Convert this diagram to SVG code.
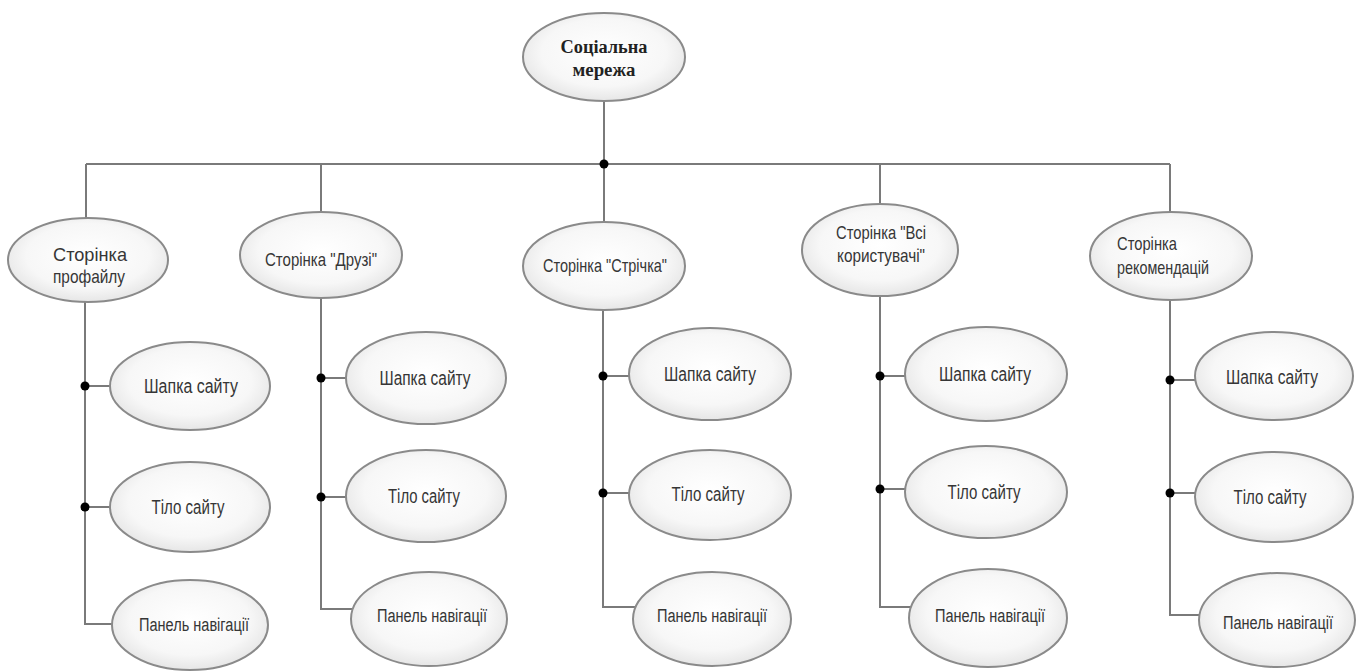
<svg xmlns="http://www.w3.org/2000/svg" width="1364" height="671" viewBox="0 0 1364 671">
  <defs>
    <radialGradient id="nodeFill" cx="50%" cy="45%" r="55%">
      <stop offset="0%" stop-color="#ffffff"/>
      <stop offset="70%" stop-color="#f7f7f7"/>
      <stop offset="100%" stop-color="#e6e6e6"/>
    </radialGradient>
  </defs>
  <style>
    .node ellipse { fill: url(#nodeFill); stroke: #8a8a8a; stroke-width: 2; }
    .lbl { font-family: "Liberation Sans", Arial, sans-serif; fill: #363636; text-anchor: middle; }
    .root { font-family: "Liberation Serif", "Times New Roman", serif; font-weight: bold; fill: #222; text-anchor: middle; font-size: 18px; }
    .conn { fill: none; stroke: #7a7a7a; stroke-width: 2; }
    .dot { fill: #000; }
  </style>

  <rect width="1364" height="671" fill="#ffffff"/>

  <!-- connectors -->
  <g id="connectors">
    <path class="conn" d="M604,101 V164"/>
    <path class="conn" d="M86,164 H1170"/>
    <path class="conn" d="M86,164 V220 M321,164 V214 M604,164 V224 M880,164 V206 M1170,164 V213"/>

    <!-- column 1 -->
    <path class="conn" d="M85,300 V624 H120 M85,386 H120 M85,507 H120"/>
    <!-- column 2 -->
    <path class="conn" d="M321,296 V609 H356 M321,378 H356 M321,497 H356"/>
    <!-- column 3 -->
    <path class="conn" d="M603,308 V607 H639 M603,376 H639 M603,493 H639"/>
    <!-- column 4 -->
    <path class="conn" d="M880,294 V607 H915 M880,376 H915 M880,489 H915"/>
    <!-- column 5 -->
    <path class="conn" d="M1170,298 V615 H1205 M1170,380 H1205 M1170,493 H1205"/>

    <circle class="dot" cx="604" cy="164" r="4.5"/>
    <circle class="dot" cx="85" cy="386" r="4.5"/>
    <circle class="dot" cx="85" cy="507" r="4.5"/>
    <circle class="dot" cx="321" cy="378" r="4.5"/>
    <circle class="dot" cx="321" cy="497" r="4.5"/>
    <circle class="dot" cx="603" cy="376" r="4.5"/>
    <circle class="dot" cx="603" cy="493" r="4.5"/>
    <circle class="dot" cx="880" cy="376" r="4.5"/>
    <circle class="dot" cx="880" cy="489" r="4.5"/>
    <circle class="dot" cx="1170" cy="380" r="4.5"/>
    <circle class="dot" cx="1170" cy="493" r="4.5"/>
  </g>

  <!-- root -->
  <g id="root" class="node">
    <ellipse cx="604" cy="57" rx="81" ry="44"/>
    <text class="root" x="604" y="53" textLength="87" lengthAdjust="spacingAndGlyphs">Соціальна</text>
    <text class="root" x="604" y="76" textLength="63" lengthAdjust="spacingAndGlyphs">мережа</text>
  </g>

  <!-- pages -->
  <g id="page-profile" class="node">
    <ellipse cx="88" cy="260" rx="80" ry="42"/>
    <text class="lbl" x="90" y="261" font-size="19" textLength="74" lengthAdjust="spacingAndGlyphs">Сторінка</text>
    <text class="lbl" x="89" y="283" font-size="19" textLength="72" lengthAdjust="spacingAndGlyphs">профайлу</text>
  </g>
  <g id="page-friends" class="node">
    <ellipse cx="321" cy="255" rx="81" ry="43"/>
    <text class="lbl" x="321" y="266" font-size="19" textLength="112" lengthAdjust="spacingAndGlyphs">Сторінка "Друзі"</text>
  </g>
  <g id="page-feed" class="node">
    <ellipse cx="604" cy="266" rx="81" ry="44"/>
    <text class="lbl" x="605" y="272" font-size="19" textLength="124" lengthAdjust="spacingAndGlyphs">Сторінка "Стрічка"</text>
  </g>
  <g id="page-users" class="node">
    <ellipse cx="880" cy="250" rx="78" ry="46"/>
    <text class="lbl" x="881" y="239" font-size="19" textLength="90" lengthAdjust="spacingAndGlyphs">Сторінка "Всі</text>
    <text class="lbl" x="881" y="262" font-size="19" textLength="88" lengthAdjust="spacingAndGlyphs">користувачі"</text>
  </g>
  <g id="page-recommendations" class="node">
    <ellipse cx="1171" cy="256" rx="81" ry="44"/>
    <text class="lbl" x="1117" y="250" font-size="19" textLength="60" lengthAdjust="spacingAndGlyphs" style="text-anchor:start">Сторінка</text>
    <text class="lbl" x="1117" y="274" font-size="19" textLength="92" lengthAdjust="spacingAndGlyphs" style="text-anchor:start">рекомендацій</text>
  </g>

  <!-- column 1 parts -->
  <g id="c1-header" class="node">
    <ellipse cx="190" cy="386" rx="80" ry="44"/>
    <text class="lbl" x="191" y="393" font-size="20" textLength="94" lengthAdjust="spacingAndGlyphs">Шапка сайту</text>
  </g>
  <g id="c1-body" class="node">
    <ellipse cx="190" cy="507" rx="80" ry="45"/>
    <text class="lbl" x="188" y="514" font-size="20" textLength="73" lengthAdjust="spacingAndGlyphs">Тіло сайту</text>
  </g>
  <g id="c1-nav" class="node">
    <ellipse cx="190" cy="625" rx="78" ry="45"/>
    <text class="lbl" x="194" y="631" font-size="18" textLength="110" lengthAdjust="spacingAndGlyphs">Панель навігації</text>
  </g>

  <!-- column 2 parts -->
  <g id="c2-header" class="node">
    <ellipse cx="426" cy="378" rx="80" ry="46"/>
    <text class="lbl" x="425" y="385" font-size="20" textLength="91" lengthAdjust="spacingAndGlyphs">Шапка сайту</text>
  </g>
  <g id="c2-body" class="node">
    <ellipse cx="426" cy="496" rx="80" ry="46"/>
    <text class="lbl" x="424" y="503" font-size="20" textLength="72" lengthAdjust="spacingAndGlyphs">Тіло сайту</text>
  </g>
  <g id="c2-nav" class="node">
    <ellipse cx="429" cy="619" rx="78" ry="47"/>
    <text class="lbl" x="432" y="622" font-size="18" textLength="110" lengthAdjust="spacingAndGlyphs">Панель навігації</text>
  </g>

  <!-- column 3 parts -->
  <g id="c3-header" class="node">
    <ellipse cx="710" cy="374" rx="81" ry="46"/>
    <text class="lbl" x="710" y="381" font-size="20" textLength="92" lengthAdjust="spacingAndGlyphs">Шапка сайту</text>
  </g>
  <g id="c3-body" class="node">
    <ellipse cx="710" cy="495" rx="81" ry="45"/>
    <text class="lbl" x="708" y="501" font-size="20" textLength="73" lengthAdjust="spacingAndGlyphs">Тіло сайту</text>
  </g>
  <g id="c3-nav" class="node">
    <ellipse cx="712" cy="619" rx="79" ry="47"/>
    <text class="lbl" x="712" y="622" font-size="18" textLength="110" lengthAdjust="spacingAndGlyphs">Панель навігації</text>
  </g>

  <!-- column 4 parts -->
  <g id="c4-header" class="node">
    <ellipse cx="986" cy="374" rx="81" ry="47"/>
    <text class="lbl" x="985" y="381" font-size="20" textLength="92" lengthAdjust="spacingAndGlyphs">Шапка сайту</text>
  </g>
  <g id="c4-body" class="node">
    <ellipse cx="986" cy="492" rx="81" ry="46"/>
    <text class="lbl" x="984" y="499" font-size="20" textLength="73" lengthAdjust="spacingAndGlyphs">Тіло сайту</text>
  </g>
  <g id="c4-nav" class="node">
    <ellipse cx="988" cy="618" rx="79" ry="49"/>
    <text class="lbl" x="990" y="622" font-size="18" textLength="110" lengthAdjust="spacingAndGlyphs">Панель навігації</text>
  </g>

  <!-- column 5 parts -->
  <g id="c5-header" class="node">
    <ellipse cx="1274" cy="376" rx="79" ry="44"/>
    <text class="lbl" x="1272" y="384" font-size="20" textLength="92" lengthAdjust="spacingAndGlyphs">Шапка сайту</text>
  </g>
  <g id="c5-body" class="node">
    <ellipse cx="1274" cy="497" rx="79" ry="45"/>
    <text class="lbl" x="1270" y="504" font-size="20" textLength="73" lengthAdjust="spacingAndGlyphs">Тіло сайту</text>
  </g>
  <g id="c5-nav" class="node">
    <ellipse cx="1277" cy="620" rx="78" ry="47"/>
    <text class="lbl" x="1278" y="629" font-size="18" textLength="110" lengthAdjust="spacingAndGlyphs">Панель навігації</text>
  </g>
</svg>
